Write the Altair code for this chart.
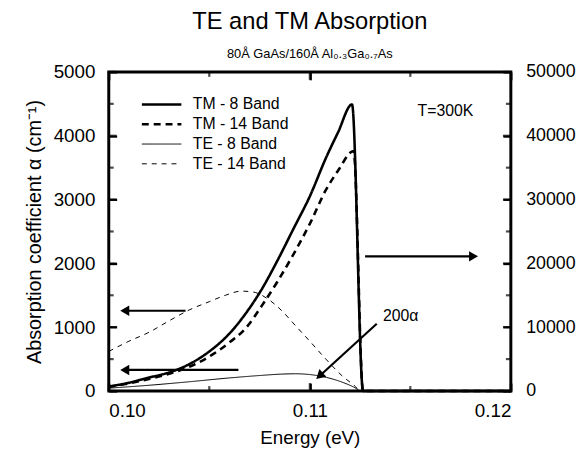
import altair as alt
import pandas as pd

# ---------------- data ----------------
series_order = ["TM - 8 Band", "TM - 14 Band", "TE - 8 Band", "TE - 14 Band"]

# TM curves (right axis, cm^-1)
tm8_energy = [0.1000, 0.1010, 0.1020, 0.1030, 0.1040, 0.1050, 0.1060, 0.1068, 0.1076,
              0.1084, 0.1092, 0.1100, 0.1108, 0.1114, 0.1121, 0.11265, 0.1200]
tm8_alpha = [700, 1300, 2100, 2900, 4200, 6200, 9000, 12100, 15900,
             20500, 25500, 30500, 36500, 40500, 44900, 0, 0]

tm14_energy = [0.1000, 0.1010, 0.1020, 0.1030, 0.1040, 0.1050, 0.1060, 0.1068, 0.1076,
               0.1084, 0.1092, 0.1100, 0.1108, 0.1114, 0.11218, 0.11265, 0.1200]
tm14_alpha = [650, 1200, 1900, 2700, 3800, 5400, 7600, 9800, 13300,
              17200, 21500, 26200, 31500, 34500, 37600, 0, 0]

# TE curves (left axis, cm^-1; TE - 8 Band shown as 200 alpha)
te8_energy = [0.1000, 0.1020, 0.1040, 0.1060, 0.1076, 0.1086, 0.1093, 0.1100, 0.1108,
              0.1116, 0.1122, 0.11255, 0.1200]
te8_alpha = [45, 90, 145, 205, 245, 265, 270, 258, 215, 140, 60, 0, 0]

te14_energy = [0.1000, 0.1010, 0.1020, 0.1030, 0.1040, 0.1050, 0.1058, 0.1066, 0.1072,
               0.1079, 0.1086, 0.1093, 0.1100, 0.1108, 0.1116, 0.1122, 0.11255, 0.1200]
te14_alpha = [620, 780, 920, 1100, 1270, 1400, 1500, 1565, 1550,
              1445, 1260, 1020, 780, 500, 240, 90, 0, 0]

# arrows (data units of the left axis)
arrow_x = [0.10382, 0.10645, 0.11275, 0.11333]
arrow_y = [1258, 330, 2110, 1053]
arrow_x2 = [0.10087, 0.10087, 0.11807, 0.11054]
arrow_y2 = [1258, 330, 2110, 252]
arrow_angle = [270, 270, 90, 228]

# text annotations
note_text = ["T=300K", "200α"]
note_x = [0.11675, 0.11364]
note_y = [4380, 1170]
note_align = ["center", "left"]

# axis ticks and labels
x_major = [0.10, 0.11, 0.12]
x_minor = [0.105, 0.115]
y_major = [0, 1000, 2000, 3000, 4000, 5000]
y_minor = [500, 1500, 2500, 3500, 4500]
yr_labels = [v * 10 for v in y_major]

# ---------------- tables ----------------
tm = pd.concat([
    pd.DataFrame({"E": tm8_energy, "a": tm8_alpha, "series": series_order[0]}),
    pd.DataFrame({"E": tm14_energy, "a": tm14_alpha, "series": series_order[1]}),
])
te = pd.concat([
    pd.DataFrame({"E": te8_energy, "a": te8_alpha, "series": series_order[2]}),
    pd.DataFrame({"E": te14_energy, "a": te14_alpha, "series": series_order[3]}),
])
arrows = pd.DataFrame({"x": arrow_x, "y": arrow_y, "x2": arrow_x2, "y2": arrow_y2, "ang": arrow_angle})
notes = pd.DataFrame({"t": note_text, "x": note_x, "y": note_y, "al": note_align})

W, H = 407, 323
FONT = "Liberation Sans"
MAJ, MIN = 8, 5   # inward tick lengths (px)
INWARD = {"expr": "-8"}

xs = alt.Scale(domain=[0.10, 0.12], nice=False, zero=False)
yls = alt.Scale(domain=[0, 5000], nice=False)
yrs = alt.Scale(domain=[0, 50000], nice=False)

leg = alt.Legend(title=None, orient="none", legendX=32, legendY=23, symbolType="stroke",
                 symbolSize=1600, clipHeight=20, labelFontSize=16, labelFont=FONT,
                 labelOffset=10, rowPadding=0, padding=0, symbolStrokeColor="black",
                 labelColor="black")
dash = alt.StrokeDash("series:N", sort=series_order,
                      scale=alt.Scale(domain=series_order, range=[[1, 0], [7, 5], [1, 0], [5, 5]]),
                      legend=leg)
swidth = alt.StrokeWidth("series:N", sort=series_order,
                         scale=alt.Scale(type="ordinal", domain=series_order, range=[2.6, 2.6, 1.0, 1.0]),
                         legend=leg)

tick_props = dict(ticks=True, tickSize=INWARD, tickWidth=2.2, tickColor="black",
                  domain=False, grid=False, zindex=1)

te_lines = alt.Chart(te).mark_line(color="black", interpolate="monotone").encode(
    x=alt.X("E:Q", scale=xs, axis=alt.Axis(orient="bottom", values=x_major, format=".2f",
                                           labelPadding=19, labelFontSize=19,
                                           title="Energy (eV)", titleFontSize=19,
                                           titleFontWeight="normal", titlePadding=8,
                                           **tick_props)),
    y=alt.Y("a:Q", scale=yls, axis=alt.Axis(orient="left", values=y_major, format="d",
                                            labelPadding=22, labelFontSize=19,
                                            title="Absorption coefficient  α (cm⁻¹)",
                                            titleFontSize=20, titleFontWeight="normal",
                                            titlePadding=9, **tick_props)),
    strokeDash=dash, strokeWidth=swidth, detail="series:N",
)

top_axis = alt.Chart(te).mark_line(opacity=0).encode(
    x=alt.X("E:Q", scale=xs, axis=alt.Axis(orient="top", values=x_major, labels=False,
                                           title=None, **tick_props)),
    y=alt.Y("a:Q", scale=yls, axis=None),
    detail="series:N",
)

tm_lines = alt.Chart(tm).mark_line(color="black", interpolate="monotone").encode(
    x=alt.X("E:Q", scale=xs, axis=None),
    y=alt.Y("a:Q", scale=yrs, axis=alt.Axis(orient="right", values=yr_labels, format="d",
                                            labelPadding=23, labelFontSize=18, title=None,
                                            **tick_props)),
    strokeDash=dash, strokeWidth=swidth, detail="series:N",
)

# inward tick marks on all four sides, placed through the scales
def y_ticks(values, size, edge):
    return alt.Chart(pd.DataFrame({"v": values})).mark_tick(
        color="black", thickness=2.2, size=size, orient="horizontal").encode(
        y=alt.Y("v:Q", scale=yls, axis=None), x=alt.value(edge))

def x_ticks(values, size, edge):
    return alt.Chart(pd.DataFrame({"v": values})).mark_tick(
        color="black", thickness=2.2, size=size, orient="vertical").encode(
        x=alt.X("v:Q", scale=xs, axis=None), y=alt.value(edge))

tick_layers = [
    y_ticks(y_major, MAJ, MAJ / 2), y_ticks(y_minor, MIN, MIN / 2),
    y_ticks(y_major, MAJ, W - MAJ / 2), y_ticks(y_minor, MIN, W - MIN / 2),
    x_ticks(x_major, MAJ, H - MAJ / 2), x_ticks(x_minor, MIN, H - MIN / 2),
    x_ticks(x_major, MAJ, MAJ / 2), x_ticks(x_minor, MIN, MIN / 2),
]

arrow_lines = alt.Chart(arrows).mark_rule(color="black", strokeWidth=2.2).encode(
    x=alt.X("x:Q", scale=xs, axis=None), y=alt.Y("y:Q", scale=yls, axis=None),
    x2="x2:Q", y2="y2:Q",
)
arrow_heads = alt.Chart(arrows).mark_point(shape="triangle", filled=True, color="black",
                                           size=110, opacity=1).encode(
    x=alt.X("x2:Q", scale=xs, axis=None), y=alt.Y("y2:Q", scale=yls, axis=None),
    angle=alt.Angle("ang:Q", scale=None),
)

note_center = alt.Chart(notes[notes.al == "center"]).mark_text(
    font=FONT, fontSize=16, color="black", align="center", baseline="middle").encode(
    x=alt.X("x:Q", scale=xs, axis=None), y=alt.Y("y:Q", scale=yls, axis=None), text="t:N")
note_left = alt.Chart(notes[notes.al == "left"]).mark_text(
    font=FONT, fontSize=16, color="black", align="left", baseline="middle").encode(
    x=alt.X("x:Q", scale=xs, axis=None), y=alt.Y("y:Q", scale=yls, axis=None), text="t:N")

chart = alt.layer(
    te_lines, top_axis, tm_lines, *tick_layers,
    arrow_lines, arrow_heads, note_center, note_left
).resolve_scale(
    y="independent"
).resolve_axis(
    x="independent", y="independent"
).properties(
    width=W, height=H, autosize="none",
    padding={"left": 102, "top": 62, "right": 70, "bottom": 57},
    title=alt.Title("TE and TM Absorption", subtitle="80Å GaAs/160Å Al₀.₃Ga₀.₇As",
                    fontSize=24, fontWeight="normal", font=FONT, color="black",
                    subtitleFontSize=13, subtitleFont=FONT, subtitleColor="black",
                    anchor="middle", offset=2, subtitlePadding=14),
).configure_view(
    stroke="black", strokeWidth=3
).configure_axis(
    labelFont=FONT, titleFont=FONT, labelColor="black", titleColor="black"
)

chart.save("out.html", embed_options={"renderer": "svg", "actions": False})
